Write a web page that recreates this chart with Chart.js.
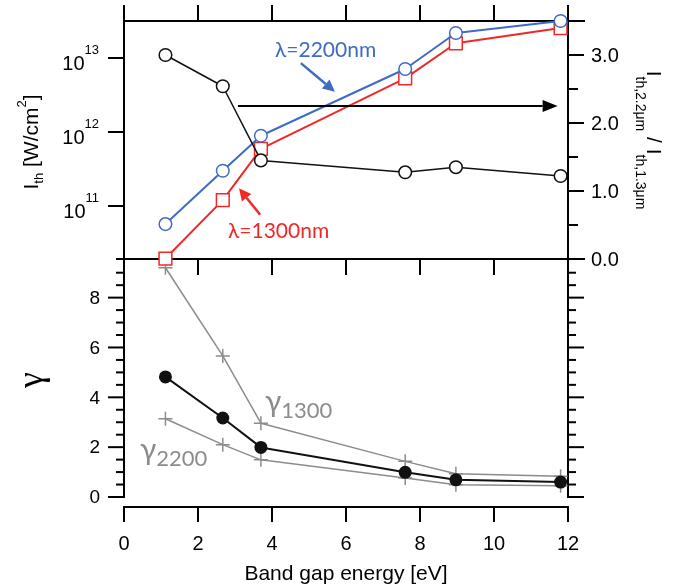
<!DOCTYPE html>
<html><head><meta charset="utf-8">
<script src="https://cdn.jsdelivr.net/npm/chart.js@4.4.1/dist/chart.umd.min.js"></script>
<style>html,body{margin:0;padding:0;background:#fff;}#wrap{width:674px;height:584px;}</style>
</head><body><div id="wrap"><canvas id="c" width="674" height="584"></canvas></div>
<script>
// ---- data ----
const energy    = [1.12, 2.67, 3.7, 7.6, 8.97, 11.8];
const ith2200   = [5.7e10, 3.0e11, 8.9e11, 7.1e12, 2.18e13, 3.16e13];
const ith1300   = [1.95e10, 1.2e11, 5.9e11, 5.3e12, 1.58e13, 2.54e13];
const ratio     = [3.0, 2.54, 1.45, 1.275, 1.35, 1.22];
const gamma     = [4.82, 3.17, 1.99, 0.99, 0.69, 0.6];
const gamma1300 = [9.2, 5.66, 2.96, 1.43, 0.93, 0.83];
const gamma2200 = [3.14, 2.1, 1.49, 0.76, 0.49, 0.45];
const xTicks     = [0, 2, 4, 6, 8, 10, 12];
const logTicks   = [11, 12, 13];
const ratioTicks = [0, 1, 2, 3];
const gammaTicks = [0, 2, 4, 6, 8];

// ---- panel ranges ----
const LOG_TOP = 13.5, LOG_BOT = 10.284;   // top panel, left log axis (exponents)
const R_MAX = 3.5, R_MIN = 0;             // top panel, right axis
const G_MAX = 9.55, G_MIN = 0;            // bottom panel
// layout in px of the plot: chart area 21..507, panel split 259, gamma zero 497
const AREA_T = 21, AREA_B = 507, SPLIT = 259, G_ZERO = 497;
const H = AREA_B - AREA_T, HT = SPLIT - AREA_T, HB = G_ZERO - SPLIT;
const logPerPx = (LOG_TOP - LOG_BOT) / HT;
const yLmin = Math.pow(10, LOG_TOP - logPerPx * H), yLmax = Math.pow(10, LOG_TOP);
const rPerPx = (R_MAX - R_MIN) / HT;
const yRmin = R_MAX - rPerPx * H;
const gPerPx = (G_MAX - G_MIN) / HB;
const yGmin = G_MIN - gPerPx * (AREA_B - G_ZERO), yGmax = G_MIN + gPerPx * (G_ZERO - AREA_T);

const SANS = "'Liberation Sans', Arial, sans-serif";
const HUM = "Lato, 'Open Sans', sans-serif";
const BLUE = '#3f6cc2', RED = '#f02828', GRAY = '#8c8c8c';

const pts = (ys) => energy.map((e, i) => ({x: e, y: ys[i]}));

// annotation placement in data units (x: eV, y: right axis)
const notes = {
  blueText: {x: 4.08, y: 2.97, text: 'λ=2200nm'},
  redText:  {x: 2.81, y: 0.31, text: 'λ=1300nm'},
  blueArrow: {x1: 4.78, y1: 2.88, x2: 5.70, y2: 2.46},
  redArrow:  {x1: 3.68, y1: 0.65, x2: 3.11, y2: 1.04},
  blackArrow:{x1: 3.08, y1: 2.25, x2: 11.72, y2: 2.25},
  g1300: {x: 3.81, y: 3.18},   // gamma axis units
  g2200: {x: 0.43, y: 1.25}
};

function rich(ctx, parts, x, y, align) {
  let w = 0;
  parts.forEach(p => { ctx.font = p.font; p.w = ctx.measureText(p.t).width; w += p.w; });
  let cx = align === 'right' ? x - w : align === 'center' ? x - w / 2 : x;
  parts.forEach(p => { ctx.font = p.font; ctx.fillText(p.t, cx, y + (p.dy || 0)); cx += p.w; });
  return w;
}
function arrow(ctx, x1, y1, x2, y2, color, lw, hl, hw) {
  const a = Math.atan2(y2 - y1, x2 - x1);
  const bx = x2 - hl * Math.cos(a), by = y2 - hl * Math.sin(a);
  ctx.strokeStyle = color; ctx.fillStyle = color; ctx.lineWidth = lw;
  ctx.beginPath(); ctx.moveTo(x1, y1); ctx.lineTo(bx, by); ctx.stroke();
  ctx.beginPath(); ctx.moveTo(x2, y2);
  ctx.lineTo(bx + hw * Math.sin(a), by - hw * Math.cos(a));
  ctx.lineTo(bx - hw * Math.sin(a), by + hw * Math.cos(a));
  ctx.closePath(); ctx.fill();
}

const framePlugin = {
  id: 'frame',
  beforeDatasetsDraw(chart) {
    const ctx = chart.ctx;
    const {left, right, top} = chart.chartArea;
    const sx = chart.scales.x, yL = chart.scales.yL, yR = chart.scales.yR, yG = chart.scales.yG;
    const sep = yR.getPixelForValue(0), g0 = yG.getPixelForValue(0);
    const T = 16, M = 8;
    ctx.save();
    ctx.strokeStyle = '#000'; ctx.lineWidth = 2;
    const L = (a, b, c, d) => { ctx.beginPath(); ctx.moveTo(a, b); ctx.lineTo(c, d); ctx.stroke(); };
    // frame lines
    L(left, top, right + T + 1, top);
    L(left - M, sep, right + T + 1, sep);
    L(left, top - T, left, g0 + 1);
    L(right, top - T, right, g0 + 1);
    xTicks.forEach(v => {
      const px = sx.getPixelForValue(v);
      L(px, top, px, top - T);
      L(px, sep, px, sep + T);
    });
    // left log ticks
    logTicks.forEach(e => { const py = yL.getPixelForValue(Math.pow(10, e)); L(left - T, py, left, py); });
    // right ratio ticks
    for (let v = 0; v <= R_MAX + 1e-9; v += 0.5) {
      const py = yR.getPixelForValue(v);
      const len = (Math.abs(v - Math.round(v)) < 1e-9) ? T : 10;
      L(right, py, right + len, py);
    }
    // gamma ticks both sides
    for (let v = 0; v <= 9.0 + 1e-9; v += 0.5) {
      const py = yG.getPixelForValue(v);
      const major = gammaTicks.includes(v);
      const len = major ? T : M;
      L(left - len, py, left, py);
      L(right, py, right + len, py);
    }
    // tick labels
    ctx.fillStyle = '#000';
    ctx.textBaseline = 'alphabetic';
    logTicks.forEach(e => {
      const py = yL.getPixelForValue(Math.pow(10, e));
      rich(ctx, [
        {t: '10', font: '20px ' + SANS, dy: 12},
        {t: String(e), font: '13px ' + SANS, dy: -4}
      ], 99, py, 'right');
    });
    ctx.textBaseline = 'middle';
    ctx.font = '20px ' + SANS; ctx.textAlign = 'left';
    ratioTicks.forEach(v => ctx.fillText(v.toFixed(1), 591, yR.getPixelForValue(v) + 1));
    ctx.font = '19px ' + SANS; ctx.textAlign = 'right';
    gammaTicks.forEach(v => ctx.fillText(String(v), 100, yG.getPixelForValue(v) + 1));
    ctx.textAlign = 'left';
    ctx.textBaseline = 'alphabetic';
    // left title (top panel)
    ctx.save();
    ctx.translate(38, 142); ctx.rotate(-Math.PI / 2);
    rich(ctx, [
      {t: 'I', font: '21px ' + SANS},
      {t: 'th', font: '13px ' + SANS, dy: 5},
      {t: ' [W/cm', font: '21px ' + SANS},
      {t: '2', font: '13px ' + SANS, dy: -12},
      {t: ']', font: '21px ' + SANS}
    ], 0, 0, 'center');
    ctx.restore();
    // right title
    ctx.save();
    ctx.translate(647, 140); ctx.rotate(Math.PI / 2);
    rich(ctx, [
      {t: 'I', font: '21px ' + SANS},
      {t: 'th,2.2μm', font: '14px ' + SANS, dy: 11},
      {t: ' / ', font: '21px ' + SANS},
      {t: 'I', font: '21px ' + SANS},
      {t: 'th,1.3μm', font: '14px ' + SANS, dy: 11}
    ], 0, 0, 'center');
    ctx.restore();
    // gamma title
    ctx.save();
    ctx.translate(42, 380); ctx.rotate(-Math.PI / 2);
    ctx.font = "36px 'Liberation Serif', 'DejaVu Serif', serif";
    ctx.textAlign = 'center';
    ctx.fillText('γ', 0, 0);
    ctx.restore();
    ctx.restore();
  },
  afterDatasetsDraw(chart) {
    const ctx = chart.ctx;
    const sx = chart.scales.x, yR = chart.scales.yR, yG = chart.scales.yG;
    const X = v => sx.getPixelForValue(v), YR = v => yR.getPixelForValue(v), YG = v => yG.getPixelForValue(v);
    ctx.save();
    ctx.textBaseline = 'alphabetic'; ctx.textAlign = 'left';
    // black arrow
    const ba = notes.blackArrow;
    arrow(ctx, X(ba.x1), YR(ba.y1), X(ba.x2), YR(ba.y2), '#000', 2, 15, 6);
    const bl = notes.blueArrow;
    arrow(ctx, X(bl.x1), YR(bl.y1), X(bl.x2), YR(bl.y2), BLUE, 2.5, 12, 6);
    const ra = notes.redArrow;
    arrow(ctx, X(ra.x1), YR(ra.y1), X(ra.x2), YR(ra.y2), RED, 2.5, 12, 6);
    ctx.font = '21px ' + HUM;
    ctx.fillStyle = BLUE; ctx.fillText(notes.blueText.text, X(notes.blueText.x), YR(notes.blueText.y));
    ctx.fillStyle = RED; ctx.fillText(notes.redText.text, X(notes.redText.x), YR(notes.redText.y));
    ctx.fillStyle = GRAY;
    [['1300', notes.g1300], ['2200', notes.g2200]].forEach(([s, p]) => {
      rich(ctx, [
        {t: 'γ', font: '30px ' + HUM, dy: -6},
        {t: s, font: '22px ' + HUM}
      ], X(p.x), YG(p.y), 'left');
    });
    ctx.restore();
  }
};

const common = {clip: false, showLine: true, tension: 0, borderJoinStyle: 'round'};
new Chart(document.getElementById('c'), {
  type: 'scatter',
  data: {datasets: [
    Object.assign({label: 'ratio', data: pts(ratio), yAxisID: 'yR', borderColor: '#111', borderWidth: 1.5,
      pointRadius: 6.3, pointBorderWidth: 1.5, pointBorderColor: '#111', pointBackgroundColor: '#fff'}, common),
    Object.assign({label: '2200', data: pts(ith2200), yAxisID: 'yL', borderColor: BLUE, borderWidth: 2,
      pointRadius: 6.3, pointBorderWidth: 1.5, pointBorderColor: BLUE, pointBackgroundColor: '#fff'}, common),
    Object.assign({label: '1300', data: pts(ith1300), yAxisID: 'yL', borderColor: RED, borderWidth: 2,
      pointStyle: 'rect', pointRadius: 9, pointBorderWidth: 1.5, pointBorderColor: RED, pointBackgroundColor: '#fff'}, common),
    Object.assign({label: 'gamma', data: pts(gamma), yAxisID: 'yG', borderColor: '#111', borderWidth: 2,
      pointRadius: 6.5, pointBorderWidth: 0, pointBackgroundColor: '#111'}, common),
    Object.assign({label: 'g1300', data: pts(gamma1300), yAxisID: 'yG', borderColor: GRAY, borderWidth: 1.5,
      pointStyle: 'cross', pointRadius: 7, pointBorderWidth: 1.5, pointBorderColor: GRAY}, common),
    Object.assign({label: 'g2200', data: pts(gamma2200), yAxisID: 'yG', borderColor: GRAY, borderWidth: 1.5,
      pointStyle: 'cross', pointRadius: 7, pointBorderWidth: 1.5, pointBorderColor: GRAY}, common)
  ]},
  options: {
    responsive: false, animation: false, devicePixelRatio: 1,
    layout: {padding: {left: 124, right: 106, top: AREA_T, bottom: 0}},
    plugins: {legend: {display: false}, tooltip: {enabled: false}},
    events: [],
    scales: {
      x: {
        type: 'linear', min: 0, max: 12, position: 'bottom',
        afterBuildTicks: s => { s.ticks = xTicks.map(v => ({value: v})); },
        border: {display: true, color: '#000', width: 2},
        grid: {display: true, drawOnChartArea: false, drawTicks: true, tickLength: 15, color: '#000', lineWidth: 2},
        ticks: {color: '#000', font: {family: SANS, size: 20}, padding: 10, maxRotation: 0},
        title: {display: true, text: 'Band gap energy [eV]', color: '#000',
          font: {family: SANS, size: 21, lineHeight: 0.9}, padding: 0},
        afterFit: s => { s.height = 584 - AREA_B; }
      },
      yL: {type: 'logarithmic', min: yLmin, max: yLmax, display: false},
      yR: {type: 'linear', min: yRmin, max: R_MAX, display: false},
      yG: {type: 'linear', min: yGmin, max: yGmax, display: false}
    }
  },
  plugins: [framePlugin]
});
</script>
</body></html>
